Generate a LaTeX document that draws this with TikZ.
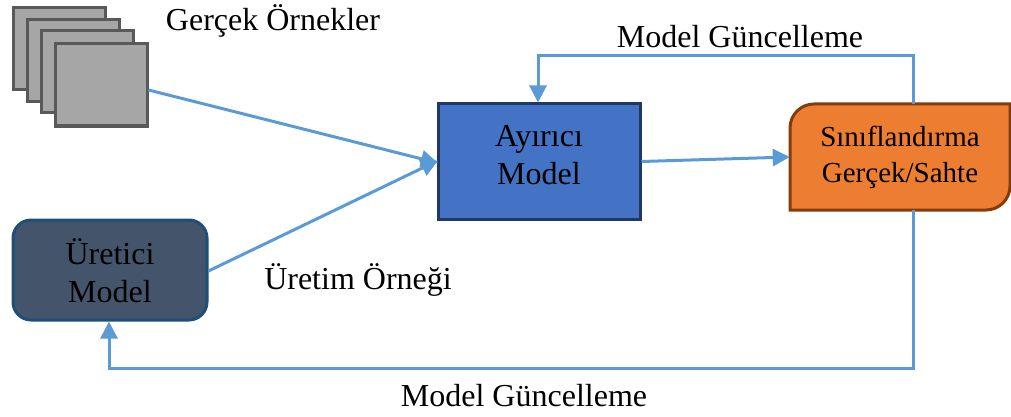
\documentclass[tikz,border=0pt]{standalone}
\usepackage{fontspec}
\setmainfont{Liberation Serif}
\usetikzlibrary{arrows.meta}
\definecolor{linkblue}{HTML}{5B9BD5}
\begin{document}
\begin{tikzpicture}[x=1pt, y=-1pt,
        sheet/.style={draw=black!65, line width=3pt, fill=black!35, minimum width=92pt, minimum height=82pt},
        modelbox/.style={align=center, font=\fontsize{32}{38}\selectfont, line width=3pt, inner sep=0pt},
        caption/.style={font=\fontsize{32}{38}\selectfont, inner sep=0pt},
        link/.style={draw=linkblue, line width=3pt, -{Triangle[length=17pt,width=17pt]}}]
        \useasboundingbox (0, 0) rectangle (1011, 417);

        \node[style=sheet] (s1) at (59.5, 49)  {};
        \node[style=sheet] (s2) at (73, 61)  {};
        \node[style=sheet] (s3) at (87, 72)  {};
        \node[style=sheet] (s4) at (101, 85)  {};

        \node[style=modelbox, draw={rgb,255:red,32;green,56;blue,100}, fill={rgb,255:red,68;green,114;blue,196}, minimum width=202pt, minimum height=115pt] (ayirici) at (539, 161.5)  {Ayırıcı\\Model\rule[-13pt]{0pt}{0pt}};
        \node[style=modelbox, rounded corners=18pt, draw={rgb,255:red,31;green,78;blue,121}, fill={rgb,255:red,68;green,84;blue,106}, minimum width=194pt, minimum height=100pt] (uretici) at (110, 270)  {\rule{0pt}{27pt}Üretici\\Model};

        \draw[line width=3pt, draw={rgb,255:red,132;green,60;blue,12}, fill={rgb,255:red,237;green,125;blue,49}]
            (790, 210) -- (790, 128) arc[start angle=180, end angle=90, radius=24pt] -- (1010, 104) -- (1010, 186)
            arc[start angle=0, end angle=-90, radius=24pt] -- cycle;
        \node[align=center, font=\fontsize{29}{36}\selectfont, inner sep=0pt, minimum width=220pt, minimum height=106pt] (sinif) at (900, 157)  {Sınıflandırma\\Gerçek/Sahte\rule[-6pt]{0pt}{0pt}};

        \node[style=caption] (gercek) at (273, 21)  {Gerçek Örnekler};
        \node[style=caption] (guncelust) at (740, 37)  {Model Güncelleme};
        \node[style=caption] (uretim) at (358, 280)  {Üretim Örneği};
        \node[style=caption] (guncelalt) at (524, 396)  {Model Güncelleme};

        \coordinate (ustkose) at (913, 56);
        \coordinate (altkose) at (913, 368);

        \draw[style=link] (s4.east) ++(0, 5) -- ([xshift=1.5pt, yshift=-1.5pt]ayirici.west);
        \draw[style=link] ([yshift=-1pt]uretici.east) -- ([xshift=1.5pt, yshift=1pt]ayirici.west);
        \draw[style=link] (ayirici.east) -- (sinif.west);
        \draw[style=link] ([xshift=13pt]sinif.north) -- (ustkose) -| ([xshift=-1pt]ayirici.north);
        \draw[style=link] ([xshift=13pt]sinif.south) -- (altkose) -| ([xshift=-1pt]uretici.south);
\end{tikzpicture}
\end{document}
